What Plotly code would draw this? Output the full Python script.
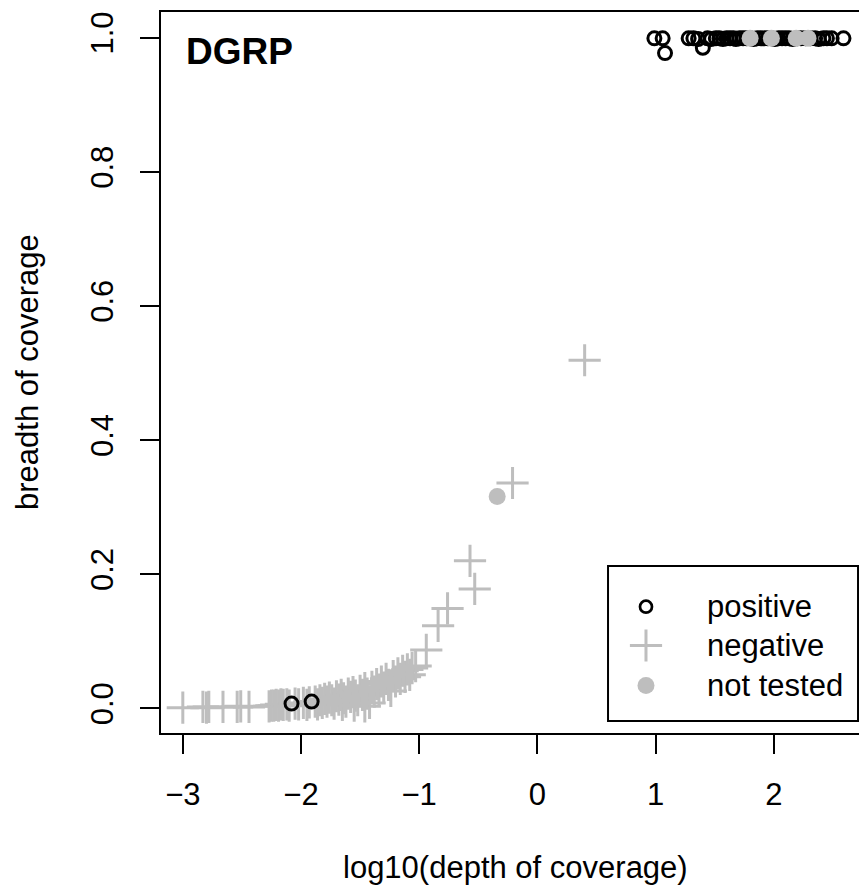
import plotly.graph_objects as go

# ---- data ----
pos_x = [-2.08, -1.91,
         0.99, 1.06, 1.08, 1.28, 1.32, 1.36, 1.40, 1.44, 1.47, 1.51, 1.54, 1.57, 1.60, 1.63,
         1.66, 1.68, 1.71, 1.74, 1.77, 1.80, 1.83, 1.86, 1.89, 1.92, 1.95, 1.98, 2.01,
         2.04, 2.07, 2.10, 2.13, 2.16, 2.20, 2.23, 2.27, 2.31, 2.35, 2.38, 2.42, 2.45,
         2.49, 2.59]
pos_y = [0.007, 0.010,
         0.999, 0.999, 0.977, 0.999, 0.999, 0.998, 0.985, 0.999, 0.998, 0.999, 0.999, 0.998, 0.999, 0.999,
         0.999, 0.998, 0.999, 0.999, 0.999, 0.999, 0.998, 0.999, 0.999, 0.999, 0.999, 0.999, 0.998,
         0.999, 0.999, 0.999, 0.999, 0.998, 0.999, 0.999, 0.999, 0.999, 0.999, 0.998, 0.999, 0.999,
         0.999, 0.999]

neg_x = [-3.00, -2.83, -2.80, -2.78, -2.66, -2.54, -2.51, -2.44, -2.27, -2.25, -2.23, -2.21,
         -2.19, -2.17, -2.15, -2.12, -2.10, -2.05, -2.02, -1.98, -1.95, -1.93, -1.88, -1.86,
         -1.84, -1.82, -1.80, -1.78, -1.76, -1.74, -1.72, -1.70, -1.68, -1.66, -1.65, -1.64,
         -1.62, -1.60, -1.58, -1.56, -1.55, -1.54, -1.52, -1.50, -1.48, -1.46, -1.46, -1.44,
         -1.42, -1.40, -1.38, -1.36, -1.34, -1.32, -1.30, -1.28, -1.26, -1.24, -1.22, -1.20,
         -1.18, -1.16, -1.14, -1.12, -1.10, -1.08, -1.06, -1.03, -0.94, -0.84, -0.76, -0.53,
         -0.57, -0.21, 0.40]
neg_y = [0.001, 0.002, 0.001, 0.002, 0.002, 0.002, 0.003, 0.002, 0.003, 0.004, 0.004, 0.005,
         0.004, 0.006, 0.005, 0.006, 0.004, 0.007, 0.006, 0.008, 0.005, 0.009, 0.010, 0.006,
         0.012, 0.008, 0.014, 0.010, 0.016, 0.012, 0.007, 0.018, 0.013, 0.020, 0.005, 0.015,
         0.010, 0.022, 0.017, 0.024, 0.004, 0.019, 0.012, 0.026, 0.020, 0.030, 0.003, 0.022,
         0.008, 0.032, 0.025, 0.036, 0.028, 0.040, 0.031, 0.044, 0.035, 0.026, 0.048, 0.040,
         0.052, 0.044, 0.056, 0.047, 0.058, 0.050, 0.060, 0.063, 0.087, 0.123, 0.149, 0.178,
         0.220, 0.336, 0.519]

nt_x = [-0.34, 1.80, 1.98, 2.19, 2.29]
nt_y = [0.316, 0.999, 0.999, 0.999, 0.999]

x_ticks = [-3, -2, -1, 0, 1, 2]
y_ticks = [0.0, 0.2, 0.4, 0.6, 0.8, 1.0]
y_tick_labels = ["0.0", "0.2", "0.4", "0.6", "0.8", "1.0"]
legend_labels = ["positive", "negative", "not tested"]

GREY = "#bebebe"
FONT = "Liberation Sans, Arial, Helvetica, sans-serif"
FS = 31

fig = go.Figure()

fig.add_trace(go.Scatter(
    x=neg_x, y=neg_y, mode="markers", name="negative", showlegend=False,
    marker=dict(symbol="cross-thin", size=23, color=GREY,
                line=dict(color=GREY, width=3))))
fig.add_trace(go.Scatter(
    x=pos_x, y=pos_y, mode="markers", name="positive", showlegend=False,
    marker=dict(symbol="circle-open", size=13, color="black",
                line=dict(color="black", width=3))))
fig.add_trace(go.Scatter(
    x=nt_x, y=nt_y, mode="markers", name="not tested", showlegend=False,
    marker=dict(symbol="circle", size=17, color=GREY, line=dict(width=0))))

# ---- manual legend (glyphs on an overlay axis in [0,1] paper-like units) ----
leg_sym_x = 0.6874
leg_rows_y = [0.1761, 0.1224, 0.0671]
leg_text_x = 0.7709
fig.add_trace(go.Scatter(
    x=[leg_sym_x], y=[leg_rows_y[0]], xaxis="x2", yaxis="y2", mode="markers",
    showlegend=False, hoverinfo="skip",
    marker=dict(symbol="circle-open", size=12, color="black",
                line=dict(color="black", width=2.7))))
fig.add_trace(go.Scatter(
    x=[leg_sym_x], y=[leg_rows_y[1]], xaxis="x2", yaxis="y2", mode="markers",
    showlegend=False, hoverinfo="skip",
    marker=dict(symbol="cross-thin", size=23, color=GREY,
                line=dict(color=GREY, width=3))))
fig.add_trace(go.Scatter(
    x=[leg_sym_x], y=[leg_rows_y[2]], xaxis="x2", yaxis="y2", mode="markers",
    showlegend=False, hoverinfo="skip",
    marker=dict(symbol="circle", size=17, color=GREY, line=dict(width=0))))

annotations = []
for lab, yy in zip(legend_labels, leg_rows_y):
    annotations.append(dict(x=leg_text_x, y=yy, xref="paper", yref="paper",
                            text=lab, showarrow=False, xanchor="left", yanchor="middle",
                            font=dict(family=FONT, size=FS, color="black")))
annotations.append(dict(x=0.0339, y=0.944, xref="paper", yref="paper", text="<b>DGRP</b>",
                        showarrow=False, xanchor="left", yanchor="middle",
                        font=dict(family=FONT, size=37, color="black")))
annotations.append(dict(x=0.5035, y=-0.1846, xref="paper", yref="paper",
                        text="log10(depth of coverage)", showarrow=False,
                        xanchor="center", yanchor="middle",
                        font=dict(family=FONT, size=FS, color="black")))
annotations.append(dict(x=-0.1874, y=0.5, xref="paper", yref="paper",
                        text="breadth of coverage", showarrow=False, textangle=-90,
                        xanchor="center", yanchor="middle",
                        font=dict(family=FONT, size=FS, color="black")))

shapes = [
    dict(type="rect", xref="paper", yref="paper", x0=0, x1=1.03, y0=0, y1=1,
         line=dict(color="black", width=2), fillcolor="rgba(0,0,0,0)", layer="above"),
    dict(type="rect", xref="paper", yref="paper", x0=0.6337, x1=0.9873, y0=0.018, y1=0.2324,
         line=dict(color="black", width=2), fillcolor="rgba(0,0,0,0)", layer="above"),
]

fig.update_layout(
    width=859, height=881,
    margin=dict(l=152, r=0, t=3, b=155),
    paper_bgcolor="white", plot_bgcolor="white",
    font=dict(family=FONT, size=FS, color="black"),
    showlegend=False,
    annotations=annotations,
    shapes=shapes,
    xaxis=dict(range=[-3.193, 2.789], tickvals=x_ticks, showgrid=False, zeroline=False,
               showline=False, ticks="outside", ticklen=19, tickwidth=2, tickcolor="black",
               tickfont=dict(family=FONT, size=FS, color="black"), ticklabelstandoff=14),
    yaxis=dict(range=[-0.0383, 1.0398], tickvals=y_ticks, ticktext=y_tick_labels,
               showgrid=False, zeroline=False, showline=False, ticks="outside",
               ticklen=19, tickwidth=2, tickcolor="black", tickangle=-90,
               tickfont=dict(family=FONT, size=FS, color="black"), ticklabelstandoff=15),
    xaxis2=dict(range=[0, 1], overlaying="x", visible=False, fixedrange=True),
    yaxis2=dict(range=[0, 1], overlaying="y", visible=False, fixedrange=True),
)

fig.write_html("out.html")
